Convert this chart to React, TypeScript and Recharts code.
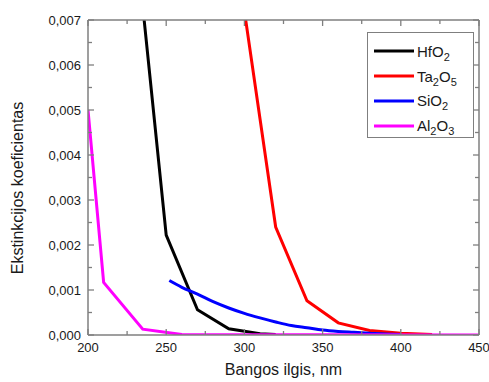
import {
  LineChart,
  Line,
  XAxis,
  YAxis,
  Legend,
  Label,
} from 'recharts';

// Extinction coefficient k vs wavelength (nm)
const hfo2Wavelengths = [230, 250, 270, 290, 310, 320];
const hfo2Values = [0.009, 0.00222, 0.00056, 0.00014, 0.00003, 0.00001];

const ta2o5Wavelengths = [300, 310, 320, 340, 360, 380, 400, 420];
const ta2o5Values = [0.0072, 0.0048, 0.0024, 0.00076, 0.00027, 0.0001, 0.00004, 0.00001];

const sio2Wavelengths = [252, 260, 270, 280, 290, 300, 310, 320, 330, 340, 350, 360, 370, 380, 390, 400];
const sio2Values = [
  0.00121, 0.00106, 0.00091, 0.00074, 0.0006, 0.00048, 0.00038, 0.00029, 0.00021, 0.00016,
  0.00011, 0.00008, 0.00006, 0.00004, 0.00002, 0.00001,
];

const al2o3Wavelengths = [200, 210, 235, 260, 450];
const al2o3Values = [0.005, 0.00117, 0.00013, 0.00001, 0];

const xTicks = [200, 225, 250, 275, 300, 325, 350, 375, 400, 425, 450];
const yTicks = [
  0, 0.0005, 0.001, 0.0015, 0.002, 0.0025, 0.003, 0.0035, 0.004, 0.0045, 0.005, 0.0055, 0.006,
  0.0065, 0.007,
];

const X_TITLE = 'Bangos ilgis, nm';
const Y_TITLE = 'Ekstinkcijos koeficientas';

// layout
const WIDTH = 489;
const HEIGHT = 382;
const PLOT_LEFT = 88;
const PLOT_TOP = 20;
const PLOT_RIGHT = 479;
const PLOT_BOTTOM = 335;
const AXIS_COLOR = '#7f7f7f';
const TEXT_COLOR = '#1a1a1a';
const FONT = '"Liberation Sans", Arial, sans-serif';

const toPoints = (xs: number[], ys: number[]) => xs.map((x, i) => ({ x, y: ys[i] }));

const series = [
  { name: 'HfO2', color: '#000000', data: toPoints(hfo2Wavelengths, hfo2Values), type: 'linear' },
  { name: 'Ta2O5', color: '#ff0000', data: toPoints(ta2o5Wavelengths, ta2o5Values), type: 'linear' },
  { name: 'SiO2', color: '#0000ff', data: toPoints(sio2Wavelengths, sio2Values), type: 'monotone' },
  { name: 'Al2O3', color: '#ff00ff', data: toPoints(al2o3Wavelengths, al2o3Values), type: 'linear' },
] as const;

const seriesOrder = series.map((s) => s.name as string);

const isMajorY = (v: number) => Math.abs(v * 1000 - Math.round(v * 1000)) < 1e-6;
const isMajorX = (v: number) => v % 50 === 0;
const fmtY = (v: number) => v.toFixed(3).replace('.', ',');

// ticks point into the plot, so they are drawn from the frame edge
function LeftTick({ y, payload }: any) {
  const major = isMajorY(payload.value);
  return (
    <g>
      <line x1={PLOT_LEFT} x2={PLOT_LEFT + (major ? 6 : 4)} y1={y} y2={y} stroke={AXIS_COLOR} strokeWidth={1.3} />
      {major && (
        <text x={PLOT_LEFT - 7} y={y} dy="0.36em" textAnchor="end" fontSize={13} fill={TEXT_COLOR} fontFamily={FONT}>
          {fmtY(payload.value)}
        </text>
      )}
    </g>
  );
}

function RightTick({ y, payload }: any) {
  const major = isMajorY(payload.value);
  return <line x1={PLOT_RIGHT} x2={PLOT_RIGHT - (major ? 6 : 4)} y1={y} y2={y} stroke={AXIS_COLOR} strokeWidth={1.3} />;
}

function BottomTick({ x, payload }: any) {
  const major = isMajorX(payload.value);
  return (
    <g>
      <line x1={x} x2={x} y1={PLOT_BOTTOM} y2={PLOT_BOTTOM - (major ? 6 : 4)} stroke={AXIS_COLOR} strokeWidth={1.3} />
      {major && (
        <text x={x} y={PLOT_BOTTOM + 17} textAnchor="middle" fontSize={13} fill={TEXT_COLOR} fontFamily={FONT}>
          {payload.value}
        </text>
      )}
    </g>
  );
}

function TopTick({ x, payload }: any) {
  const major = isMajorX(payload.value);
  return <line x1={x} x2={x} y1={PLOT_TOP} y2={PLOT_TOP + (major ? 6 : 4)} stroke={AXIS_COLOR} strokeWidth={1.3} />;
}

// "Ta2O5" -> Ta<sub>2</sub>O<sub>5</sub>
function Formula({ text }: { text: string }) {
  const parts = text.split(/(\d+)/).filter(Boolean);
  return (
    <span>
      {parts.map((p, i) =>
        /\d/.test(p) ? (
          <sub key={i} style={{ fontSize: 11, verticalAlign: -4, lineHeight: 0 }}>
            {p}
          </sub>
        ) : (
          <span key={i}>{p}</span>
        )
      )}
    </span>
  );
}

function LegendBox({ payload }: any) {
  const items = (payload || [])
    .filter((e: any) => seriesOrder.includes(e.value))
    .sort((a: any, b: any) => seriesOrder.indexOf(a.value) - seriesOrder.indexOf(b.value));
  return (
    <div
      style={{
        border: `1px solid ${AXIS_COLOR}`,
        background: '#fff',
        boxSizing: 'border-box',
        width: '100%',
        height: '100%',
        padding: '6px 0 0 6px',
        fontFamily: FONT,
        fontSize: 15,
        color: TEXT_COLOR,
      }}
    >
      {items.map((entry: any) => (
        <div key={entry.value} style={{ display: 'flex', alignItems: 'center', height: 24.8 }}>
          <svg width={40} height={4} style={{ marginRight: 3 }}>
            <line x1={0} x2={40} y1={2} y2={2} stroke={entry.color} strokeWidth={3} />
          </svg>
          <Formula text={entry.value} />
        </div>
      ))}
    </div>
  );
}

export default function App() {
  return (
    <div style={{ position: 'absolute', left: 0, top: 0, width: WIDTH, height: HEIGHT, background: '#fff' }}>
      <LineChart width={WIDTH} height={HEIGHT} margin={{ top: 0, right: 0, bottom: 0, left: 0 }}>
        <XAxis
          xAxisId={0}
          dataKey="x"
          type="number"
          domain={[200, 450]}
          ticks={xTicks}
          allowDataOverflow
          height={HEIGHT - PLOT_BOTTOM}
          axisLine={{ stroke: AXIS_COLOR, strokeWidth: 1.5 }}
          tickLine={false}
          tick={<BottomTick />}
          interval={0}
        >
          <Label
            value={X_TITLE}
            position="insideBottom"
            offset={7}
            style={{ fontSize: 16, fill: TEXT_COLOR, fontFamily: FONT }}
          />
        </XAxis>
        <XAxis
          xAxisId="top"
          orientation="top"
          dataKey="x"
          type="number"
          domain={[200, 450]}
          ticks={xTicks}
          allowDataOverflow
          height={PLOT_TOP}
          axisLine={{ stroke: AXIS_COLOR, strokeWidth: 1.5 }}
          tickLine={false}
          tick={<TopTick />}
          interval={0}
        />
        <YAxis
          yAxisId={0}
          type="number"
          domain={[0, 0.007]}
          ticks={yTicks}
          allowDataOverflow
          width={PLOT_LEFT}
          axisLine={{ stroke: AXIS_COLOR, strokeWidth: 1.5 }}
          tickLine={false}
          tick={<LeftTick />}
          interval={0}
        >
          <Label
            content={() => (
              <text
                x={23}
                y={188}
                transform="rotate(-90, 23, 188)"
                textAnchor="middle"
                fontSize={16}
                fill={TEXT_COLOR}
                fontFamily={FONT}
              >
                {Y_TITLE}
              </text>
            )}
          />
        </YAxis>
        <YAxis
          yAxisId="right"
          orientation="right"
          type="number"
          domain={[0, 0.007]}
          ticks={yTicks}
          allowDataOverflow
          width={WIDTH - PLOT_RIGHT}
          axisLine={{ stroke: AXIS_COLOR, strokeWidth: 1.5 }}
          tickLine={false}
          tick={<RightTick />}
          interval={0}
        />
        <Legend
          layout="horizontal"
          verticalAlign="middle"
          align="center"
          content={<LegendBox />}
          wrapperStyle={{ left: 367, top: 32, width: 107, height: 106, bottom: 'auto', right: 'auto' }}
        />
        {/* invisible series so the mirrored frame axes (top/right) get drawn */}
        <Line
          xAxisId="top"
          yAxisId="right"
          data={series[3].data as any}
          dataKey="y"
          name="frame"
          stroke="none"
          dot={false}
          activeDot={false}
          legendType="none"
          isAnimationActive={false}
        />
        {series.map((s) => (
          <Line
            key={s.name}
            xAxisId={0}
            yAxisId={0}
            data={s.data as any}
            dataKey="y"
            name={s.name}
            type={s.type}
            stroke={s.color}
            strokeWidth={3}
            dot={false}
            activeDot={false}
            legendType="line"
            isAnimationActive={false}
          />
        ))}
      </LineChart>
    </div>
  );
}
